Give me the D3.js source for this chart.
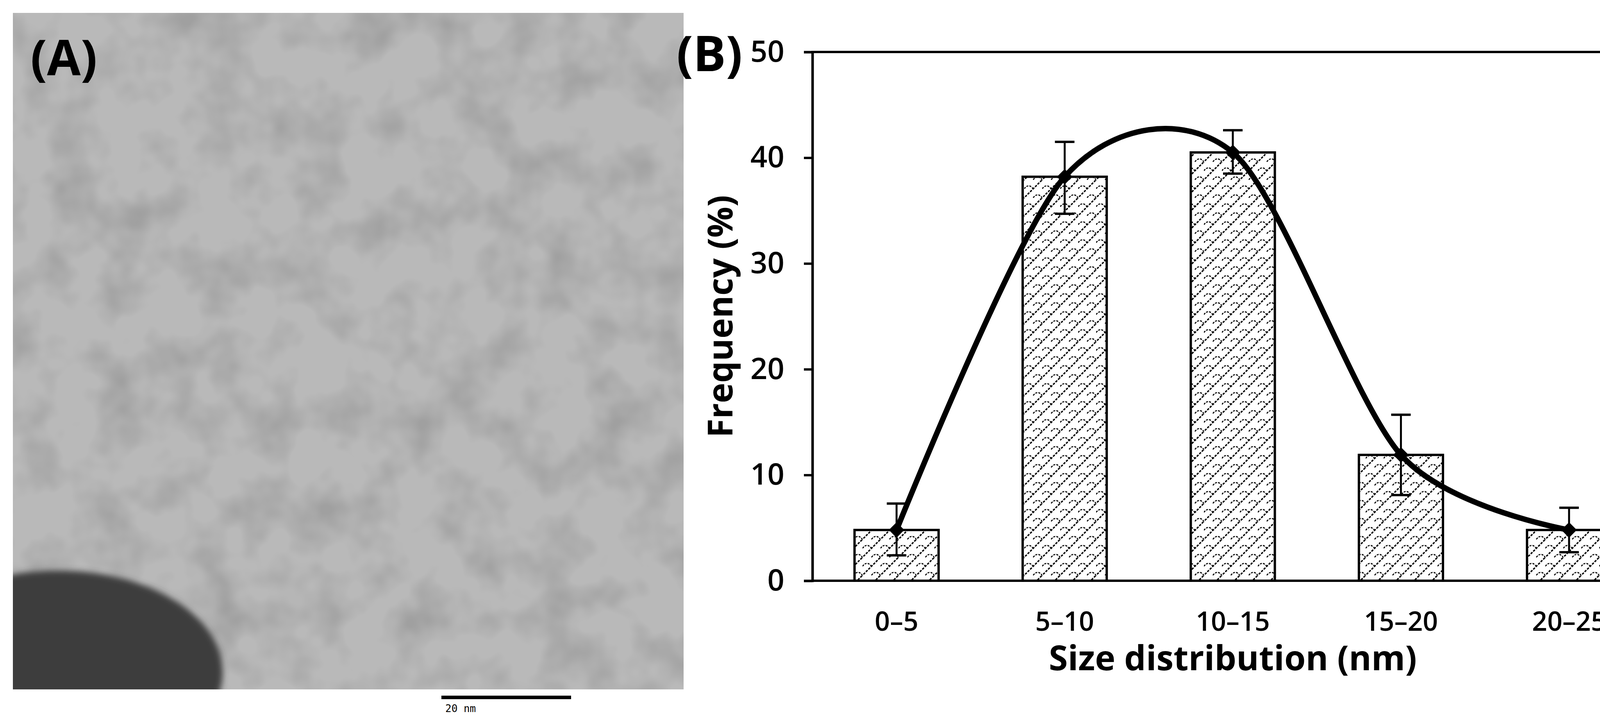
<!DOCTYPE html>
<html><head><meta charset="utf-8">
<script src="https://cdn.jsdelivr.net/npm/d3@7"></script>
<style>body{margin:0;background:#fff}svg{display:block}</style>
</head><body>
<script>
const categories = ["0–5","5–10","10–15","15–20","20–25"];
const frequency = [4.8, 38.2, 40.5, 11.9, 4.8];
const errLow = [2.4, 34.7, 38.5, 8.1, 2.7];
const errHigh = [7.3, 41.5, 42.6, 15.7, 6.9];
const yTicks = [0,10,20,30,40,50];

const W=4269,H=1850;
const svg=d3.select("body").append("svg").attr("width",W).attr("height",H);
const defs=svg.append("defs");
const FONT="'Open Sans', 'Liberation Sans', sans-serif";

// ---- Panel A: TEM micrograph placeholder ----
const blur=defs.append("filter").attr("id","bl");
blur.append("feGaussianBlur").attr("stdDeviation",8);
const noise=defs.append("filter").attr("id","nz").attr("x",0).attr("y",0).attr("width",1).attr("height",1);
noise.append("feTurbulence").attr("type","fractalNoise").attr("baseFrequency",0.008).attr("numOctaves",3).attr("seed",7);
noise.append("feColorMatrix").attr("type","matrix")
  .attr("values","0 0 0 0 0.35  0 0 0 0 0.35  0 0 0 0 0.35  0 0 0 -2.2 1.3");
const clipA=defs.append("clipPath").attr("id","clipA");
clipA.append("rect").attr("x",33).attr("y",33).attr("width",1717).attr("height",1731);
const A=svg.append("g").attr("clip-path","url(#clipA)");
A.append("rect").attr("x",33).attr("y",33).attr("width",1717).attr("height",1731).attr("fill","#b9b9b9");
A.append("rect").attr("x",33).attr("y",33).attr("width",1717).attr("height",1731).attr("filter","url(#nz)");
A.append("ellipse").attr("cx",150).attr("cy",1720).attr("rx",420).attr("ry",260).attr("fill","#3c3c3c").attr("filter","url(#bl)");
// scale bar
svg.append("rect").attr("x",1130).attr("y",1780).attr("width",332).attr("height",9).attr("fill","#000");
svg.append("text").attr("x",1140).attr("y",1822).attr("font-family","'DejaVu Sans Mono', monospace")
  .attr("font-size",26).text("20 nm");
svg.append("text").attr("x",78).attr("y",192).attr("font-family",FONT).attr("font-weight",700)
  .attr("font-size",125).attr("fill","#000").text("(A)");

// ---- Panel B ----
const pat=defs.append("pattern").attr("id","hatch").attr("patternUnits","userSpaceOnUse")
  .attr("width",46).attr("height",46);
pat.append("rect").attr("width",46).attr("height",46).attr("fill","#fff");
pat.append("path").attr("d","M-4,50 L50,-4 M-4,4 L4,-4 M42,50 L50,42").attr("stroke","#000").attr("stroke-width",3.5).attr("stroke-dasharray","6,3");
pat.append("path").attr("d","M0,23 Q11,8 23,23 M23,46 Q34,31 46,46 M23,0 Q34,-15 46,0").attr("stroke","#000")
  .attr("stroke-width",2.8).attr("fill","none").attr("stroke-dasharray","5,3");

const L=2080,R=4232,T=133,B=1486;
const x=d3.scaleBand().domain(categories).range([L,R]).paddingInner(0.5).paddingOuter(0.25);
const y=d3.scaleLinear().domain([0,50]).range([B,T]);
const g=svg.append("g");

g.selectAll("rect.bar").data(frequency).join("rect").attr("class","bar")
  .attr("x",(d,i)=>x(categories[i])).attr("width",x.bandwidth())
  .attr("y",d=>y(d)).attr("height",d=>B-y(d))
  .attr("fill","url(#hatch)").attr("stroke","#000").attr("stroke-width",6);

// frame
g.append("rect").attr("x",L).attr("y",T).attr("width",R-L).attr("height",B-T)
  .attr("fill","none").attr("stroke","#000").attr("stroke-width",6);

// y axis
const ya=g.append("g").attr("transform",`translate(${L},0)`)
  .call(d3.axisLeft(y).tickValues(yTicks).tickSize(22).tickPadding(50));
ya.select(".domain").attr("stroke-width",6);
ya.selectAll(".tick line").attr("stroke-width",6);
ya.selectAll("text").attr("font-family",FONT).attr("font-weight",600).attr("font-size",76).attr("fill","#000");

// x axis
const xa=g.append("g").attr("transform",`translate(0,${B})`)
  .call(d3.axisBottom(x).tickSize(0).tickPadding(80));
xa.select(".domain").remove();
xa.selectAll("text").attr("font-family",FONT).attr("font-weight",600).attr("font-size",68).attr("fill","#000");

const cx=i=>x(categories[i])+x.bandwidth()/2;

// error bars
const eb=g.selectAll("g.eb").data(frequency).join("g").attr("class","eb");
eb.append("line").attr("x1",(d,i)=>cx(i)).attr("x2",(d,i)=>cx(i))
  .attr("y1",(d,i)=>y(errLow[i])).attr("y2",(d,i)=>y(errHigh[i])).attr("stroke","#000").attr("stroke-width",5);
eb.append("line").attr("x1",(d,i)=>cx(i)-25).attr("x2",(d,i)=>cx(i)+25)
  .attr("y1",(d,i)=>y(errLow[i])).attr("y2",(d,i)=>y(errLow[i])).attr("stroke","#000").attr("stroke-width",6);
eb.append("line").attr("x1",(d,i)=>cx(i)-25).attr("x2",(d,i)=>cx(i)+25)
  .attr("y1",(d,i)=>y(errHigh[i])).attr("y2",(d,i)=>y(errHigh[i])).attr("stroke","#000").attr("stroke-width",6);

// smooth line
const line=d3.line().x((d,i)=>cx(i)).y(d=>y(d)).curve(d3.curveCardinal.tension(0.15));
g.append("path").datum(frequency).attr("d",line).attr("fill","none").attr("stroke","#000").attr("stroke-width",14);

// diamond markers
g.selectAll("path.mk").data(frequency).join("path").attr("class","mk")
  .attr("d",d3.symbol(d3.symbolDiamond2? d3.symbolSquare2 : d3.symbolSquare,1000)())
  .attr("transform",(d,i)=>`translate(${cx(i)},${y(d)}) rotate(45)`).attr("fill","#000");

// axis titles
svg.append("text").attr("x",(L+R)/2).attr("y",1715).attr("text-anchor","middle")
  .attr("font-family",FONT).attr("font-weight",700).attr("font-size",88).text("Size distribution (nm)");
svg.append("text").attr("transform",`translate(1875,${(T+B)/2}) rotate(-90)`).attr("text-anchor","middle")
  .attr("font-family",FONT).attr("font-weight",700).attr("font-size",88).text("Frequency (%)");
svg.append("text").attr("x",1732).attr("y",182).attr("font-family",FONT).attr("font-weight",700)
  .attr("font-size",125).attr("fill","#000").text("(B)");
</script></body></html>
